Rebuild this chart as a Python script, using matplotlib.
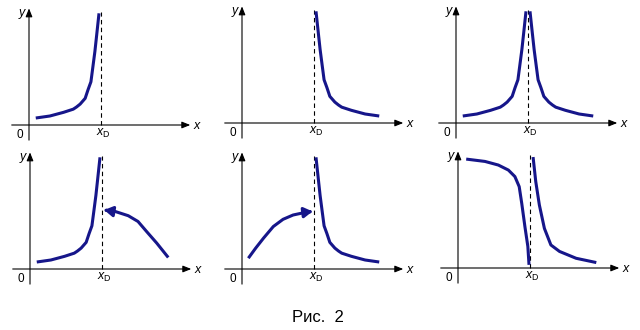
import numpy as np
import matplotlib.pyplot as plt

plt.rcParams['font.family'] = ['Liberation Sans', 'DejaVu Sans']
plt.rcParams['mathtext.fontset'] = 'custom'
plt.rcParams['mathtext.rm'] = 'Liberation Sans'
plt.rcParams['mathtext.it'] = 'Liberation Sans:italic'

# branch rising towards x_D from the left (units: x_D = 1)
left_x = [0.115, 0.29, 0.48, 0.615, 0.66, 0.71, 0.78, 0.80, 0.82, 0.86, 0.885, 0.915, 0.94, 0.97]
left_y = [0.10, 0.125, 0.176, 0.22, 0.25, 0.29, 0.37, 0.43, 0.49, 0.60, 0.79, 1.02, 1.25, 1.53]

# branch falling away from x_D to the right
right_x = [1.03, 1.06, 1.085, 1.115, 1.14, 1.18, 1.20, 1.22, 1.29, 1.34, 1.385, 1.52, 1.71, 1.885]
right_y = [1.53, 1.25, 1.02, 0.79, 0.60, 0.49, 0.43, 0.37, 0.29, 0.25, 0.22, 0.176, 0.125, 0.10]

# curve approaching x_D from the right (panel 4, arrow points left)
back_x = [1.92, 1.76, 1.62, 1.50, 1.365, 1.18, 1.06, 1.03]
back_y = [0.16, 0.36, 0.52, 0.66, 0.74, 0.80, 0.815, 0.82]

# curve approaching x_D from the left (panel 5, arrow points right)
fwd_x = [0.088, 0.19, 0.30, 0.435, 0.57, 0.71, 0.85, 0.94, 0.98]
fwd_y = [0.15, 0.29, 0.43, 0.59, 0.69, 0.75, 0.78, 0.795, 0.80]

# panel 6: falling curve on both sides of x_D
drop_x = [0.135, 0.375, 0.56, 0.70, 0.79, 0.85, 0.885, 0.93, 0.97, 0.985]
drop_y = [1.51, 1.48, 1.43, 1.36, 1.27, 1.13, 0.90, 0.57, 0.30, 0.065]
tail_x = [1.045, 1.08, 1.13, 1.2, 1.29, 1.41, 1.64, 1.9]
tail_y = [1.52, 1.2, 0.875, 0.55, 0.32, 0.23, 0.135, 0.08]

# origin of each panel in pixels (x from left, y from top)
origins = [(29, 125), (242, 123), (456, 123), (30, 269), (242, 269), (458, 268)]

W, H = 640, 330
unit = 72.0
xlim = (-0.4, 2.55)
ylim = (-0.3, 1.75)
navy = '#16168a'
lw = 2.2

fig = plt.figure(figsize=(6.4, 3.3), dpi=100)


def panel(ox, oy):
    left = (ox + xlim[0] * unit) / W
    bottom = (H - oy + ylim[0] * unit) / H
    ax = fig.add_axes([left, bottom, (xlim[1] - xlim[0]) * unit / W,
                       (ylim[1] - ylim[0]) * unit / H])
    ax.set_xlim(xlim)
    ax.set_ylim(ylim)
    ax.axis('off')
    arrow = dict(arrowstyle='-|>,head_length=0.5,head_width=0.2', lw=0.8,
                 color='k', shrinkA=0, shrinkB=0)
    ax.annotate('', xy=(2.24, 0), xytext=(-0.24, 0), arrowprops=arrow)
    ax.annotate('', xy=(0, 1.62), xytext=(0, -0.21), arrowprops=arrow)
    ax.plot([1, 1], [0, 1.57], color='k', lw=0.8, ls=(0, (4, 3)))
    ax.text(2.29, -0.01, 'x', style='italic', fontsize=9, ha='left', va='center')
    ax.text(-0.05, 1.56, 'y', style='italic', fontsize=9, ha='right', va='center')
    ax.text(-0.13, -0.14, '0', fontsize=8.5, ha='center', va='center')
    ax.text(1.03, -0.02, r'$x_{\mathrm{D}}$', fontsize=9, ha='center', va='top')
    return ax


def arrow_curve(ax, xs, ys):
    ax.plot(xs[:-1], ys[:-1], color=navy, lw=lw, solid_capstyle='butt')
    ax.annotate('', xy=(xs[-1], ys[-1]), xytext=(xs[-2], ys[-2]),
                arrowprops=dict(arrowstyle='-|>,head_length=0.5,head_width=0.3',
                                color=navy, lw=lw, shrinkA=0, shrinkB=0))


axes = [panel(ox, oy) for ox, oy in origins]

axes[0].plot(left_x, left_y, color=navy, lw=lw)
axes[1].plot(right_x, right_y, color=navy, lw=lw)
axes[2].plot(left_x, left_y, color=navy, lw=lw)
axes[2].plot(right_x, right_y, color=navy, lw=lw)

axes[3].plot(left_x, left_y, color=navy, lw=lw)
arrow_curve(axes[3], back_x, back_y)

axes[4].plot(right_x, right_y, color=navy, lw=lw)
arrow_curve(axes[4], fwd_x, fwd_y)

axes[5].plot(drop_x, drop_y, color=navy, lw=lw)
axes[5].plot(tail_x, tail_y, color=navy, lw=lw)

fig.text(0.497, 0.038, 'Рис.  2', fontsize=12, ha='center', va='center')

fig.savefig('out.png', dpi=100)
